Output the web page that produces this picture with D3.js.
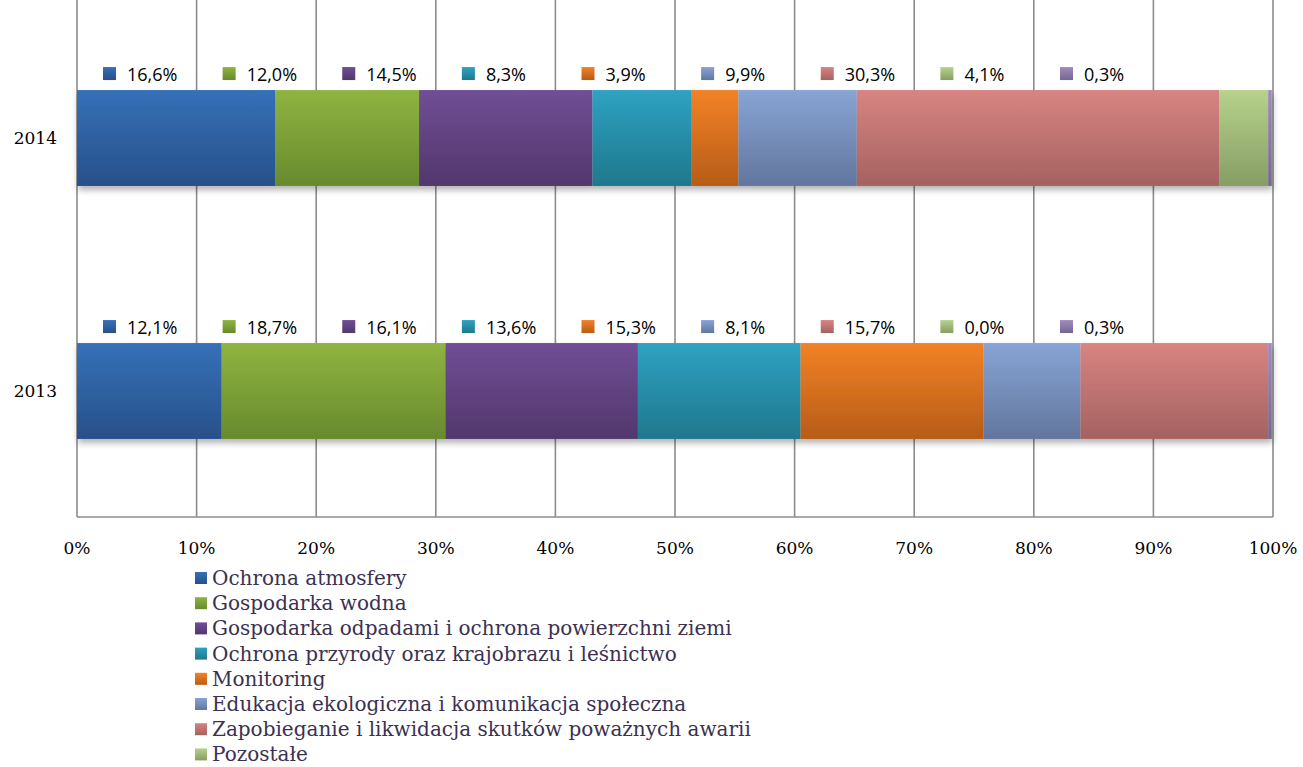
<!DOCTYPE html>
<html>
<head>
<meta charset="utf-8">
<script src="https://cdn.jsdelivr.net/npm/d3@7"></script>
<style>
  body { margin: 0; background: #fff; }
  svg { display: block; }
</style>
</head>
<body>
<div id="chart"></div>
<script>
// data
const years = ['2014', '2013'];
const seriesNames = [
    'Ochrona atmosfery',
    'Gospodarka wodna',
    'Gospodarka odpadami i ochrona powierzchni ziemi',
    'Ochrona przyrody oraz krajobrazu i leśnictwo',
    'Monitoring',
    'Edukacja ekologiczna i komunikacja społeczna',
    'Zapobieganie i likwidacja skutków poważnych awarii',
    'Pozostałe',
    ''
];
const values2014 = [16.6, 12.0, 14.5, 8.3, 3.9, 9.9, 30.3, 4.1, 0.3];
const values2013 = [12.1, 18.7, 16.1, 13.6, 15.3, 8.1, 15.7, 0.0, 0.3];
const ticks = [0, 10, 20, 30, 40, 50, 60, 70, 80, 90, 100];

// top / bottom colour of each series gradient
const colorsTop = ['#3571b8', '#8fb440', '#704e96', '#2fa2c2', '#f28226', '#88a4d5', '#d88482', '#b6d28c', '#a08bbf'];
const colorsBottom = ['#28508a', '#688a2e', '#52376c', '#1f788d', '#b75c18', '#62769d', '#a46260', '#879d64', '#76678e'];

const width = 1303, height = 767;
const margin = { top: 0, left: 77, right: 30 };
const plotBottom = 517;

const svg = d3.select('#chart').append('svg')
    .attr('width', width)
    .attr('height', height);

const defs = svg.append('defs');
colorsTop.forEach((c, i) => {
    const g = defs.append('linearGradient')
        .attr('id', 'grad' + i)
        .attr('x1', 0).attr('y1', 0).attr('x2', 0).attr('y2', 1);
    g.append('stop').attr('offset', '0%').attr('stop-color', c);
    g.append('stop').attr('offset', '100%').attr('stop-color', colorsBottom[i]);
});
const shadow = defs.append('filter').attr('id', 'shadow')
    .attr('x', '-2%').attr('y', '-10%').attr('width', '104%').attr('height', '130%');
shadow.append('feDropShadow')
    .attr('dx', 1).attr('dy', 4).attr('stdDeviation', 3)
    .attr('flood-color', '#000').attr('flood-opacity', 0.3);

const x = d3.scaleLinear().domain([0, 100]).range([margin.left, width - margin.right]);
const y = d3.scaleBand().domain(years).range([margin.top, 529]).paddingInner(0.621).paddingOuter(0.356);

// grid lines
svg.append('g').selectAll('line')
    .data(ticks)
    .join('line')
    .attr('x1', d => x(d)).attr('x2', d => x(d))
    .attr('y1', 0).attr('y2', plotBottom)
    .attr('stroke', '#8c8c8c')
    .attr('stroke-width', 1.6);

svg.append('line')
    .attr('x1', x(0)).attr('x2', x(100))
    .attr('y1', plotBottom).attr('y2', plotBottom)
    .attr('stroke', '#8c8c8c')
    .attr('stroke-width', 1.6);

// x axis labels
svg.append('g').selectAll('text')
    .data(ticks)
    .join('text')
    .attr('x', d => x(d))
    .attr('y', 554)
    .attr('text-anchor', 'middle')
    .style('font-family', '"DejaVu Serif", serif')
    .style('font-size', '17px')
    .style('fill', '#000')
    .text(d => d + '%');

// year labels
svg.append('g').selectAll('text')
    .data(years)
    .join('text')
    .attr('x', 57)
    .attr('y', d => y(d) + y.bandwidth() / 2 + 6)
    .attr('text-anchor', 'end')
    .style('font-family', '"DejaVu Serif", serif')
    .style('font-size', '17px')
    .text(d => d);

const rows = [values2014, values2013].map((vals, r) => {
    let acc = 0;
    return vals.map((v, i) => {
        const seg = { year: years[r], i: i, v: v, x0: acc, x1: acc + v };
        acc += v;
        return seg;
    });
});

// bars
rows.forEach(row => {
    const g = svg.append('g').attr('filter', 'url(#shadow)');
    g.selectAll('rect')
        .data(row)
        .join('rect')
        .attr('x', d => x(d.x0))
        .attr('y', d => y(d.year))
        .attr('width', d => Math.max(0, x(Math.min(d.x1, 100)) - x(d.x0)))
        .attr('height', y.bandwidth())
        .attr('fill', d => 'url(#grad' + d.i + ')');
});

// value labels above bars (Excel puts them in roughly evenly spaced slots)
const slot = d3.scalePoint().domain(d3.range(9)).range([103, 1060]);
rows.forEach(row => {
    const g = svg.append('g');
    const lab = g.selectAll('g')
        .data(row)
        .join('g')
        .attr('transform', d => `translate(${slot(d.i)},${y(d.year) - 17})`);
    lab.append('rect')
        .attr('x', 0).attr('y', -6)
        .attr('width', 13).attr('height', 13)
        .attr('fill', d => 'url(#grad' + d.i + ')');
    lab.append('text')
        .attr('x', 24)
        .attr('y', 8)
        .style('font-family', '"Open Sans", "Liberation Sans", sans-serif')
        .style('font-size', '18px')
        .style('fill', '#000')
        .text(d => d.v.toFixed(1).replace('.', ',') + '%');
});

// legend
const legendItems = seriesNames.map((n, i) => ({ name: n, i: i })).filter(d => d.name !== '');
const legend = svg.append('g');
const li = legend.selectAll('g')
    .data(legendItems)
    .join('g')
    .attr('transform', (d, k) => `translate(195,${578 + k * 25.2})`);
li.append('rect')
    .attr('x', 0).attr('y', -6)
    .attr('width', 12).attr('height', 12)
    .attr('fill', d => 'url(#grad' + d.i + ')');
li.append('text')
    .attr('x', 17)
    .attr('y', 7)
    .style('font-family', '"DejaVu Serif", serif')
    .style('font-size', '20px')
    .style('fill', '#3b3151')
    .text(d => d.name);
</script>
</body>
</html>
